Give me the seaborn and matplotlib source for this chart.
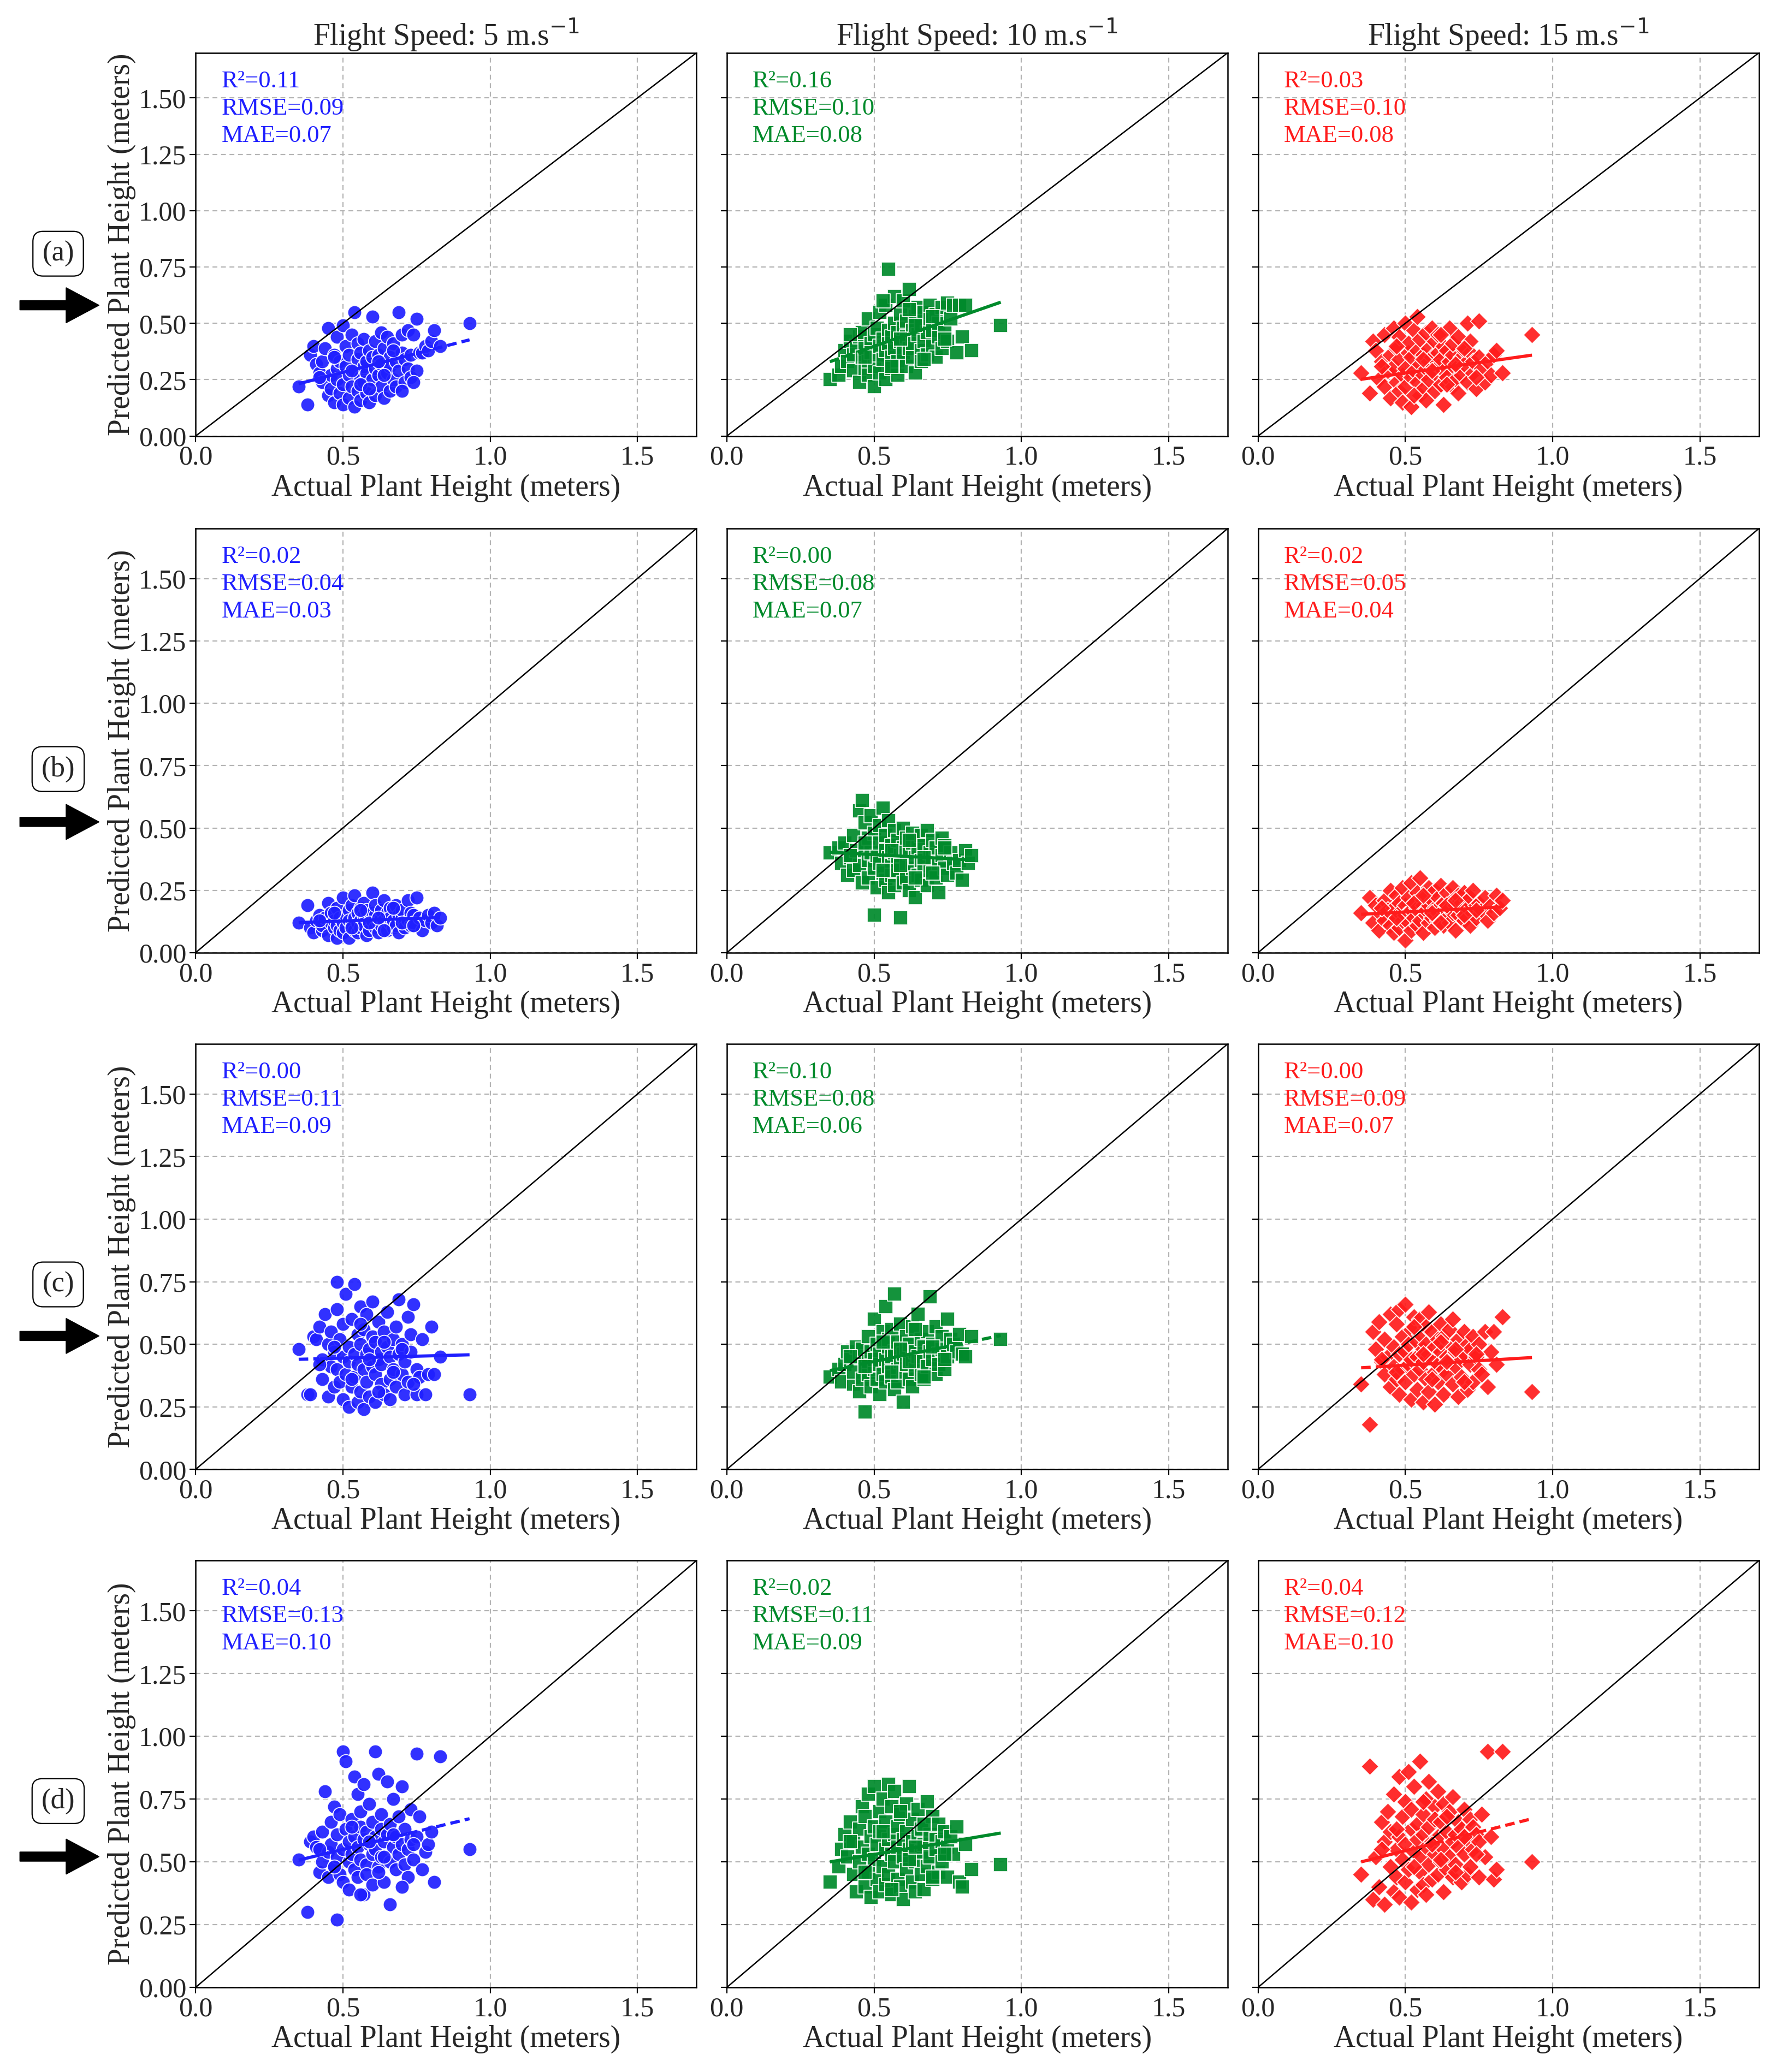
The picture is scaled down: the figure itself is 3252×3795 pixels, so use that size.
import numpy as np
import matplotlib
matplotlib.use("Agg")
import matplotlib.pyplot as plt
import seaborn as sns

# ---------------- data ----------------
speeds = [5, 10, 15]
row_labels = ["(a)", "(b)", "(c)", "(d)"]

actual = [0.35, 0.38, 0.39, 0.40, 0.41, 0.42, 0.43, 0.43, 0.44, 0.45,
          0.45, 0.46, 0.46, 0.47, 0.47, 0.48, 0.48, 0.48, 0.49, 0.49,
          0.50, 0.50, 0.50, 0.51, 0.51, 0.52, 0.52, 0.52, 0.53, 0.53,
          0.54, 0.54, 0.54, 0.55, 0.55, 0.55, 0.56, 0.56, 0.56, 0.57,
          0.57, 0.57, 0.58, 0.58, 0.58, 0.59, 0.59, 0.60, 0.60, 0.60,
          0.61, 0.61, 0.61, 0.62, 0.62, 0.63, 0.63, 0.63, 0.64, 0.64,
          0.65, 0.65, 0.66, 0.66, 0.66, 0.67, 0.67, 0.68, 0.68, 0.69,
          0.69, 0.70, 0.70, 0.71, 0.71, 0.72, 0.72, 0.73, 0.73, 0.74,
          0.75, 0.75, 0.76, 0.77, 0.78, 0.79, 0.80, 0.81, 0.83, 0.93,
          0.42, 0.47, 0.53, 0.56, 0.59, 0.62, 0.64, 0.67, 0.70, 0.74]

actual_b = [0.35, 0.38, 0.39, 0.40, 0.41, 0.42, 0.43, 0.43, 0.44, 0.45,
            0.45, 0.46, 0.46, 0.47, 0.47, 0.48, 0.48, 0.48, 0.49, 0.49,
            0.50, 0.50, 0.50, 0.51, 0.51, 0.52, 0.52, 0.52, 0.53, 0.53,
            0.54, 0.54, 0.54, 0.55, 0.55, 0.55, 0.56, 0.56, 0.56, 0.57,
            0.57, 0.57, 0.58, 0.58, 0.58, 0.59, 0.59, 0.60, 0.60, 0.60,
            0.61, 0.61, 0.61, 0.62, 0.62, 0.63, 0.63, 0.63, 0.64, 0.64,
            0.65, 0.65, 0.66, 0.66, 0.66, 0.67, 0.67, 0.68, 0.68, 0.69,
            0.69, 0.70, 0.70, 0.71, 0.71, 0.72, 0.72, 0.73, 0.73, 0.74,
            0.74, 0.75, 0.76, 0.77, 0.78, 0.79, 0.80, 0.81, 0.82, 0.83,
            0.42, 0.47, 0.53, 0.56, 0.59, 0.62, 0.64, 0.67, 0.70, 0.74]

pred_a_5 = [0.22, 0.14, 0.36, 0.40, 0.32, 0.28, 0.24, 0.33, 0.39, 0.48,
            0.18, 0.27, 0.21, 0.36, 0.15, 0.30, 0.44, 0.25, 0.19, 0.33,
            0.49, 0.23, 0.14, 0.31, 0.40, 0.27, 0.17, 0.36, 0.45, 0.22,
            0.55, 0.29, 0.13, 0.34, 0.41, 0.20, 0.26, 0.37, 0.16, 0.31,
            0.24, 0.43, 0.19, 0.33, 0.28, 0.38, 0.15, 0.53, 0.25, 0.35,
            0.30, 0.42, 0.18, 0.27, 0.36, 0.22, 0.46, 0.32, 0.17, 0.39,
            0.28, 0.44, 0.35, 0.20, 0.31, 0.25, 0.41, 0.33, 0.22, 0.55,
            0.29, 0.45, 0.37, 0.24, 0.34, 0.47, 0.30, 0.26, 0.36, 0.45,
            0.52, 0.29, 0.37, 0.37, 0.40, 0.38, 0.42, 0.47, 0.40, 0.50,
            0.26, 0.35, 0.29, 0.23, 0.21, 0.33, 0.27, 0.38, 0.20, 0.24]
pred_a_10 = [0.25, 0.27, 0.31, 0.38, 0.33, 0.42, 0.36, 0.29, 0.40, 0.44,
             0.24, 0.35, 0.46, 0.30, 0.39, 0.52, 0.33, 0.27, 0.41, 0.37,
             0.45, 0.31, 0.22, 0.48, 0.36, 0.55, 0.40, 0.28, 0.43, 0.34,
             0.58, 0.38, 0.25, 0.47, 0.41, 0.74, 0.35, 0.44, 0.30, 0.50,
             0.39, 0.62, 0.33, 0.46, 0.27, 0.54, 0.42, 0.37, 0.48, 0.60,
             0.31, 0.44, 0.51, 0.39, 0.65, 0.35, 0.47, 0.41, 0.53, 0.28,
             0.45, 0.57, 0.38, 0.49, 0.33, 0.55, 0.42, 0.46, 0.36, 0.52,
             0.58, 0.40, 0.47, 0.35, 0.54, 0.44, 0.50, 0.39, 0.57, 0.46,
             0.59, 0.42, 0.52, 0.58, 0.37, 0.58, 0.44, 0.58, 0.38, 0.49,
             0.45, 0.35, 0.60, 0.31, 0.43, 0.56, 0.49, 0.34, 0.53, 0.43]
pred_a_15 = [0.28, 0.19, 0.42, 0.38, 0.25, 0.33, 0.45, 0.22, 0.29, 0.36,
             0.17, 0.31, 0.48, 0.24, 0.39, 0.20, 0.34, 0.44, 0.27, 0.15,
             0.50, 0.30, 0.22, 0.37, 0.41, 0.26, 0.13, 0.35, 0.47, 0.29,
             0.53, 0.24, 0.38, 0.18, 0.32, 0.43, 0.27, 0.36, 0.21, 0.46,
             0.30, 0.16, 0.39, 0.33, 0.25, 0.48, 0.35, 0.28, 0.42, 0.20,
             0.37, 0.31, 0.45, 0.23, 0.34, 0.40, 0.14, 0.29, 0.38, 0.26,
             0.33, 0.48, 0.22, 0.36, 0.41, 0.30, 0.25, 0.44, 0.19, 0.35,
             0.27, 0.38, 0.32, 0.50, 0.24, 0.37, 0.42, 0.28, 0.33, 0.21,
             0.51, 0.35, 0.30, 0.24, 0.33, 0.27, 0.36, 0.38, 0.28, 0.45,
             0.31, 0.40, 0.18, 0.34, 0.29, 0.45, 0.23, 0.32, 0.39, 0.26]

pred_b_5 = [0.12, 0.19, 0.10, 0.08, 0.13, 0.15, 0.09, 0.11, 0.14, 0.20,
            0.07, 0.12, 0.16, 0.10, 0.13, 0.06, 0.18, 0.11, 0.14, 0.09,
            0.22, 0.12, 0.08, 0.15, 0.10, 0.17, 0.13, 0.06, 0.11, 0.19,
            0.14, 0.09, 0.23, 0.12, 0.16, 0.08, 0.13, 0.18, 0.10, 0.15,
            0.11, 0.20, 0.07, 0.14, 0.17, 0.12, 0.09, 0.24, 0.13, 0.16,
            0.10, 0.15, 0.19, 0.12, 0.08, 0.14, 0.17, 0.11, 0.13, 0.21,
            0.09, 0.16, 0.12, 0.18, 0.14, 0.10, 0.13, 0.19, 0.11, 0.15,
            0.08, 0.14, 0.17, 0.12, 0.10, 0.21, 0.13, 0.16, 0.11, 0.15,
            0.12, 0.22, 0.14, 0.09, 0.13, 0.15, 0.12, 0.16, 0.11, 0.14,
            0.13, 0.16, 0.10, 0.17, 0.12, 0.14, 0.09, 0.18, 0.12, 0.11]
pred_b_10 = [0.40, 0.42, 0.36, 0.44, 0.31, 0.38, 0.47, 0.33, 0.41, 0.57,
             0.35, 0.61, 0.28, 0.43, 0.52, 0.37, 0.30, 0.46, 0.40, 0.55,
             0.34, 0.48, 0.15, 0.39, 0.26, 0.44, 0.51, 0.36, 0.32, 0.58,
             0.41, 0.29, 0.47, 0.38, 0.24, 0.53, 0.35, 0.43, 0.31, 0.40,
             0.49, 0.27, 0.37, 0.45, 0.33, 0.14, 0.39, 0.50, 0.28, 0.42,
             0.36, 0.46, 0.30, 0.40, 0.25, 0.44, 0.34, 0.48, 0.38, 0.22,
             0.42, 0.31, 0.47, 0.37, 0.29, 0.43, 0.35, 0.49, 0.27, 0.40,
             0.33, 0.45, 0.38, 0.30, 0.42, 0.36, 0.24, 0.46, 0.39, 0.34,
             0.43, 0.31, 0.40, 0.36, 0.32, 0.37, 0.29, 0.41, 0.36, 0.39,
             0.39, 0.44, 0.33, 0.41, 0.35, 0.45, 0.30, 0.38, 0.32, 0.42]
pred_b_15 = [0.16, 0.22, 0.12, 0.19, 0.09, 0.15, 0.21, 0.13, 0.17, 0.25,
             0.11, 0.18, 0.08, 0.23, 0.14, 0.20, 0.10, 0.16, 0.26, 0.13,
             0.19, 0.05, 0.15, 0.22, 0.12, 0.28, 0.17, 0.09, 0.20, 0.14,
             0.24, 0.11, 0.18, 0.16, 0.30, 0.13, 0.21, 0.08, 0.19, 0.15,
             0.23, 0.17, 0.12, 0.26, 0.19, 0.14, 0.21, 0.10, 0.18, 0.25,
             0.16, 0.13, 0.22, 0.19, 0.27, 0.11, 0.17, 0.20, 0.14, 0.24,
             0.18, 0.12, 0.21, 0.16, 0.26, 0.19, 0.09, 0.23, 0.15, 0.20,
             0.17, 0.24, 0.13, 0.21, 0.18, 0.11, 0.22, 0.16, 0.25, 0.19,
             0.14, 0.20, 0.17, 0.22, 0.13, 0.19, 0.16, 0.23, 0.18, 0.21,
             0.18, 0.14, 0.20, 0.23, 0.16, 0.12, 0.19, 0.21, 0.15, 0.17]

pred_c_5 = [0.48, 0.30, 0.30, 0.53, 0.52, 0.57, 0.44, 0.36, 0.62, 0.50,
            0.29, 0.41, 0.55, 0.33, 0.47, 0.64, 0.40, 0.75, 0.35, 0.52,
            0.45, 0.28, 0.58, 0.38, 0.70, 0.49, 0.25, 0.43, 0.60, 0.33,
            0.74, 0.46, 0.37, 0.54, 0.27, 0.42, 0.65, 0.31, 0.50, 0.40,
            0.56, 0.24, 0.46, 0.62, 0.35, 0.48, 0.29, 0.53, 0.41, 0.67,
            0.38, 0.51, 0.27, 0.44, 0.59, 0.34, 0.47, 0.42, 0.55, 0.30,
            0.49, 0.63, 0.36, 0.45, 0.28, 0.52, 0.40, 0.57, 0.33, 0.46,
            0.68, 0.38, 0.50, 0.43, 0.30, 0.61, 0.35, 0.54, 0.47, 0.66,
            0.40, 0.30, 0.37, 0.52, 0.30, 0.38, 0.57, 0.38, 0.45, 0.30,
            0.42, 0.49, 0.36, 0.58, 0.44, 0.31, 0.51, 0.39, 0.48, 0.34]
pred_c_10 = [0.37, 0.40, 0.35, 0.42, 0.47, 0.44, 0.34, 0.39, 0.49, 0.31,
             0.45, 0.36, 0.48, 0.23, 0.41, 0.53, 0.38, 0.43, 0.33, 0.47,
             0.60, 0.40, 0.44, 0.36, 0.50, 0.42, 0.30, 0.46, 0.55, 0.38,
             0.44, 0.65, 0.35, 0.49, 0.41, 0.52, 0.37, 0.45, 0.56, 0.32,
             0.47, 0.70, 0.40, 0.51, 0.35, 0.43, 0.58, 0.39, 0.46, 0.27,
             0.53, 0.42, 0.48, 0.36, 0.50, 0.44, 0.57, 0.33, 0.47, 0.40,
             0.62, 0.45, 0.38, 0.52, 0.43, 0.49, 0.36, 0.55, 0.41, 0.47,
             0.69, 0.44, 0.50, 0.38, 0.57, 0.46, 0.42, 0.53, 0.48, 0.40,
             0.60, 0.45, 0.52, 0.50, 0.47, 0.54, 0.46, 0.45, 0.53, 0.52,
             0.45, 0.41, 0.51, 0.39, 0.48, 0.43, 0.56, 0.37, 0.49, 0.44]
pred_c_15 = [0.34, 0.18, 0.55, 0.48, 0.59, 0.43, 0.38, 0.52, 0.45, 0.62,
             0.33, 0.49, 0.41, 0.58, 0.36, 0.64, 0.46, 0.30, 0.53, 0.40,
             0.47, 0.66, 0.35, 0.50, 0.42, 0.28, 0.56, 0.44, 0.61, 0.38,
             0.51, 0.32, 0.45, 0.60, 0.40, 0.54, 0.27, 0.48, 0.43, 0.57,
             0.36, 0.50, 0.46, 0.63, 0.31, 0.44, 0.55, 0.39, 0.49, 0.26,
             0.52, 0.42, 0.35, 0.58, 0.47, 0.40, 0.53, 0.30, 0.45, 0.38,
             0.56, 0.43, 0.49, 0.34, 0.60, 0.41, 0.47, 0.29, 0.52, 0.44,
             0.37, 0.55, 0.46, 0.32, 0.50, 0.42, 0.48, 0.35, 0.53, 0.45,
             0.40, 0.50, 0.38, 0.55, 0.33, 0.47, 0.55, 0.42, 0.61, 0.31,
             0.44, 0.39, 0.57, 0.46, 0.36, 0.51, 0.43, 0.48, 0.35, 0.46]

pred_d_5 = [0.51, 0.30, 0.58, 0.60, 0.56, 0.46, 0.62, 0.50, 0.78, 0.54,
            0.44, 0.66, 0.57, 0.48, 0.72, 0.52, 0.27, 0.61, 0.45, 0.69,
            0.94, 0.55, 0.42, 0.63, 0.90, 0.50, 0.58, 0.39, 0.67, 0.53,
            0.84, 0.47, 0.60, 0.56, 0.77, 0.44, 0.64, 0.51, 0.70, 0.37,
            0.59, 0.81, 0.49, 0.62, 0.45, 0.57, 0.73, 0.53, 0.66, 0.41,
            0.94, 0.55, 0.60, 0.48, 0.85, 0.63, 0.52, 0.69, 0.42, 0.58,
            0.61, 0.82, 0.50, 0.65, 0.33, 0.56, 0.75, 0.47, 0.60, 0.53,
            0.68, 0.57, 0.80, 0.49, 0.63, 0.55, 0.44, 0.71, 0.59, 0.51,
            0.93, 0.60, 0.68, 0.47, 0.54, 0.57, 0.62, 0.42, 0.92, 0.55,
            0.55, 0.48, 0.64, 0.37, 0.58, 0.46, 0.52, 0.61, 0.40, 0.57]
pred_d_10 = [0.42, 0.48, 0.55, 0.61, 0.52, 0.66, 0.45, 0.58, 0.38, 0.63,
             0.50, 0.72, 0.56, 0.40, 0.68, 0.53, 0.77, 0.46, 0.60, 0.36,
             0.64, 0.51, 0.80, 0.43, 0.57, 0.70, 0.38, 0.62, 0.48, 0.75,
             0.55, 0.41, 0.66, 0.59, 0.81, 0.45, 0.53, 0.72, 0.37, 0.61,
             0.50, 0.78, 0.43, 0.64, 0.56, 0.40, 0.69, 0.52, 0.59, 0.35,
             0.73, 0.47, 0.62, 0.55, 0.80, 0.42, 0.58, 0.67, 0.50, 0.38,
             0.60, 0.71, 0.45, 0.54, 0.63, 0.39, 0.57, 0.74, 0.48, 0.61,
             0.52, 0.68, 0.43, 0.59, 0.55, 0.65, 0.46, 0.58, 0.50, 0.62,
             0.56, 0.44, 0.60, 0.53, 0.64, 0.42, 0.40, 0.57, 0.47, 0.49,
             0.58, 0.46, 0.62, 0.39, 0.70, 0.51, 0.56, 0.65, 0.44, 0.53]
pred_d_15 = [0.45, 0.88, 0.35, 0.52, 0.40, 0.66, 0.58, 0.33, 0.70, 0.48,
             0.62, 0.38, 0.77, 0.55, 0.44, 0.84, 0.60, 0.36, 0.68, 0.51,
             0.74, 0.42, 0.57, 0.86, 0.47, 0.63, 0.34, 0.71, 0.54, 0.80,
             0.39, 0.65, 0.59, 0.46, 0.90, 0.52, 0.69, 0.41, 0.61, 0.75,
             0.56, 0.37, 0.82, 0.49, 0.64, 0.58, 0.43, 0.72, 0.53, 0.67,
             0.45, 0.78, 0.60, 0.50, 0.66, 0.38, 0.55, 0.73, 0.62, 0.47,
             0.70, 0.52, 0.58, 0.44, 0.76, 0.61, 0.49, 0.66, 0.56, 0.42,
             0.63, 0.53, 0.71, 0.45, 0.59, 0.67, 0.48, 0.64, 0.55, 0.61,
             0.44, 0.58, 0.69, 0.52, 0.94, 0.60, 0.43, 0.47, 0.94, 0.50,
             0.55, 0.63, 0.48, 0.74, 0.57, 0.51, 0.68, 0.46, 0.60, 0.53]

r2_vals = [[0.11, 0.16, 0.03], [0.02, 0.00, 0.02], [0.00, 0.10, 0.00], [0.04, 0.02, 0.04]]
rmse_vals = [[0.09, 0.10, 0.10], [0.04, 0.08, 0.05], [0.11, 0.08, 0.09], [0.13, 0.11, 0.12]]
mae_vals = [[0.07, 0.08, 0.08], [0.03, 0.07, 0.04], [0.09, 0.06, 0.07], [0.10, 0.09, 0.10]]

# fitted line values at the smallest / largest actual height
fit_start = [[0.232, 0.330, 0.252], [0.121, 0.403, 0.154], [0.440, 0.395, 0.406], [0.507, 0.500, 0.500]]
fit_end = [[0.427, 0.594, 0.359], [0.141, 0.372, 0.184], [0.458, 0.535, 0.447], [0.672, 0.615, 0.672]]
# x ranges where the fitted line is drawn dashed
dashed_spans = [[[(0.71, 1.0)], [(0.0, 0.475)], []],
                [[], [], []],
                [[(0.0, 0.42)], [(0.0, 0.45), (0.72, 1.0)], [(0.0, 0.42)]],
                [[(0.72, 1.0)], [], [(0.55, 1.0)]]]

preds = [[pred_a_5, pred_a_10, pred_a_15],
         [pred_b_5, pred_b_10, pred_b_15],
         [pred_c_5, pred_c_10, pred_c_15],
         [pred_d_5, pred_d_10, pred_d_15]]
actuals = [actual, actual_b, actual, actual]

colors = ["#1f1fff", "#008a2b", "#ff1c1c"]
markers = ["o", "s", "D"]
sizes = [340, 340, 270]

# ---------------- style ----------------
sns.set_theme(style="white")
plt.rcParams["font.family"] = ["Liberation Serif", "DejaVu Serif"]
plt.rcParams["axes.unicode_minus"] = True

fig = plt.figure(figsize=(32.52, 37.95), dpi=100)
RW, RH = 1344.0, 1568.0
col_left = [148, 550, 952]
col_w = 379
rows_tb = [(40, 330), (400, 721), (790, 1112), (1181, 1504)]
box_y = [192, 582, 972, 1363]
arrow_y = [231, 622, 1011, 1405]

tick_fs = 36
label_fs = 40
stats_fs = 32

for r in range(4):
    top, bot = rows_tb[r]
    for c in range(3):
        ax = fig.add_axes([col_left[c] / RW, 1 - bot / RH, col_w / RW, (bot - top) / RH])
        xs = np.array(actuals[r])
        ys = np.array(preds[r][c])
        sns.scatterplot(x=xs, y=ys, ax=ax, color=colors[c], marker=markers[c],
                        s=sizes[c], edgecolor="white", linewidth=1.3, alpha=0.92,
                        legend=False, zorder=3)
        ax.axline((0, 0), slope=1, color="black", lw=1.8, zorder=4)

        # fitted line, solid / dashed pieces
        x0, x1 = xs.min(), xs.max()
        y0, y1 = fit_start[r][c], fit_end[r][c]
        bps = {x0, x1}
        for lo, hi in dashed_spans[r][c]:
            for b in (lo, hi):
                if x0 < b < x1:
                    bps.add(b)
        bps = sorted(bps)
        for a, b in zip(bps[:-1], bps[1:]):
            mid = 0.5 * (a + b)
            dashed = any(lo <= mid <= hi for lo, hi in dashed_spans[r][c])
            seg_x = np.array([a, b])
            seg_y = y0 + (y1 - y0) * (seg_x - x0) / (x1 - x0)
            ax.plot(seg_x, seg_y, color=colors[c], lw=4.2,
                    linestyle=(0, (3, 1.6)) if dashed else "-", zorder=5,
                    solid_capstyle="butt")

        ax.set_xlim(0, 1.7)
        ax.set_ylim(0, 1.7)
        ax.set_xticks([0.0, 0.5, 1.0, 1.5])
        ax.set_xticklabels(["0.0", "0.5", "1.0", "1.5"])
        ax.set_yticks([0.0, 0.25, 0.5, 0.75, 1.0, 1.25, 1.5])
        if c == 0:
            ax.set_yticklabels(["0.00", "0.25", "0.50", "0.75", "1.00", "1.25", "1.50"])
            ax.set_ylabel("Predicted Plant Height (meters)", fontsize=label_fs, labelpad=4)
        else:
            ax.set_yticklabels([])
        ax.set_xlabel("Actual Plant Height (meters)", fontsize=label_fs, labelpad=4)
        ax.tick_params(axis="both", which="both", bottom=True, left=True, direction="out",
                       length=8, width=1.6, color="black", labelsize=tick_fs, pad=4)
        ax.grid(True, linestyle=(0, (4, 3)), color="#b4b4b4", linewidth=1.6)
        ax.set_axisbelow(True)
        for sp in ax.spines.values():
            sp.set_visible(True)
            sp.set_color("black")
            sp.set_linewidth(1.8)
        ax.set_facecolor("white")

        ax.annotate(f"R²={r2_vals[r][c]:.2f}\nRMSE={rmse_vals[r][c]:.2f}\nMAE={mae_vals[r][c]:.2f}",
                    xy=(0, 1), xycoords="axes fraction", xytext=(34, -23),
                    textcoords="offset points", ha="left", va="top",
                    fontsize=stats_fs, color=colors[c], linespacing=1.32)
        if r == 0:
            ax.set_title(f"Flight Speed: {speeds[c]} m.s$^{{-1}}$", fontsize=label_fs, pad=10)

    fig.text(44 / RW, 1 - box_y[r] / RH, row_labels[r], ha="center", va="center",
             fontsize=38,
             bbox=dict(boxstyle="round,pad=0.32,rounding_size=0.35", fc="white", ec="black", lw=1.6))
    fig.add_artist(matplotlib.patches.FancyArrow(
        15 / RW, 1 - arrow_y[r] / RH, 60 / RW, 0, width=0.0045, head_width=0.017,
        head_length=25 / RW, length_includes_head=True, color="black",
        transform=fig.transFigure))

fig.savefig("out.png", dpi=100, facecolor="white")
